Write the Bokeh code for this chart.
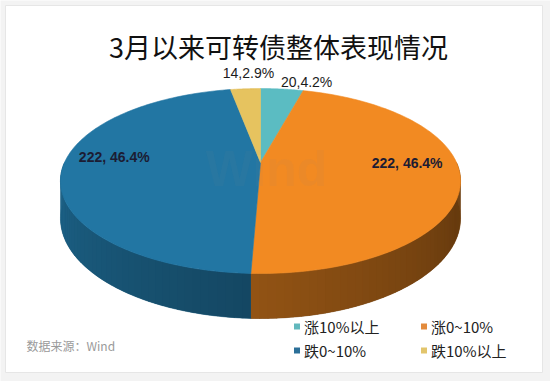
import numpy as np
from bokeh.plotting import figure
from bokeh.models import Range1d
from bokeh.core.properties import value
from bokeh.embed import file_html
from bokeh.resources import INLINE

# ---------------- data ----------------
title = "3月以来可转债整体表现情况"
categories = ["涨10%以上", "涨0~10%", "跌0~10%", "跌10%以上"]
counts = [20, 222, 222, 14]
percents = ["4.2", "46.4", "46.4", "2.9"]
source_note = "数据来源：Wind"

# ---------------- style ----------------
top_colors = ["#5bbcc2", "#f28a22", "#2276a3", "#e6c35f"]
side_colors = ["#5bbcc2", "#f28a22", "#2276a3", "#e6c35f"]
legend_colors = ["#62b8bd", "#e38b3c", "#2b6f98", "#e2c56c"]
label_inside = [False, True, True, False]
label_sep = [",", ", ", ", ", ","]

W, H = 550, 381
CX, CY, RX, RY, K, DEPTH = 260.0, 162.0, 196.0, 88.8, 0.2, 36.0
LABEL_R = 0.74
INSIDE_DY = -10.0
outside_dx = [-1.0, 0, 0, 3.0]
outside_dy = [-7.0, 0, 0, -16.0]
outside_align = ["left", "center", "center", "center"]


def proj(theta, r=1.0, drop=0.0):
    u = r * np.cos(theta)
    v = r * np.sin(theta)
    w = 1.0 + K * v
    return CX + RX * u / w, CY - RY * v / w + drop / w


def shade_factor(theta):
    return np.interp(theta, [-np.pi, -np.pi / 2, -0.35, 0.0], [0.86, 0.60, 0.42, 0.47])


def darken(hexcol, f):
    h = hexcol.lstrip("#")
    r, g, b = (int(h[i:i + 2], 16) for i in (0, 2, 4))
    return "#%02x%02x%02x" % (int(r * f), int(g * f), int(b * f))


p = figure(width=W, height=H, output_backend="svg", toolbar_location=None,
           x_range=Range1d(0, W), y_range=Range1d(H, 0), min_border=0)
p.axis.visible = False
p.grid.visible = False
p.outline_line_color = None
p.background_fill_color = "#f3f3f3"
p.border_fill_color = "#f3f3f3"

# card
p.quad(left=[5], right=[542], top=[5], bottom=[372], fill_color="white",
       line_color="#e6e6e6", line_width=1)

# angles (clockwise from 12 o'clock)
total = float(sum(counts))
fracs = np.array(counts) / total
ends = np.pi / 2 - 2 * np.pi * np.cumsum(fracs)
starts = np.concatenate([[np.pi / 2], ends[:-1]])

# sides (front half only): solid base + shaded strips on top
bx_, by_, bc_ = [], [], []
sx, sy, sc = [], [], []
for i in range(len(counts)):
    a = max(ends[i], -np.pi)
    b = min(starts[i], 0.0)
    if b <= a:
        continue
    ts_full = np.linspace(a, b, 100)
    tx0, ty0 = proj(ts_full)
    bx0, by0 = proj(ts_full[::-1], drop=DEPTH)
    bx_.append(list(tx0) + list(bx0))
    by_.append(list(ty0) + list(by0))
    bc_.append(darken(side_colors[i], float(shade_factor(0.5 * (a + b)))))
    n = max(2, int((b - a) / np.radians(2.0)) + 1)
    ts = np.linspace(a, b, n + 1)
    for j in range(n):
        t0, t1 = ts[j], ts[j + 1]
        t1e = min(b, t1 + 0.004)
        x0, y0 = proj(t0)
        x1, y1 = proj(t1e)
        qx0, qy0 = proj(t0, drop=DEPTH)
        qx1, qy1 = proj(t1e, drop=DEPTH)
        sx.append([x0, x1, qx1, qx0])
        sy.append([y0, y1, qy1, qy0])
        sc.append(darken(side_colors[i], shade_factor(0.5 * (t0 + t1))))
p.patches(bx_, by_, fill_color=bc_, line_color=bc_, line_width=0.5)
p.patches(sx, sy, fill_color=sc, line_color=None)

# top face wedges
tx, ty = [], []
for i in range(len(counts)):
    ts = np.linspace(starts[i], ends[i], 120)
    xs, ys = proj(ts)
    tx.append([CX] + list(xs))
    ty.append([CY] + list(ys))
p.patches(tx, ty, fill_color=top_colors, line_color=top_colors, line_width=0.6)

# watermark
p.text(x=[266], y=[168], text=["Wind"], text_align="center", text_baseline="middle",
       text_font=value("Liberation Sans"), text_font_style="bold", text_font_size="50px",
       text_color="#808080", text_alpha=0.06)

# data labels
mids = 0.5 * (starts + ends)
for i in range(len(counts)):
    txt = f"{counts[i]}{label_sep[i]}{percents[i]}%"
    if label_inside[i]:
        lx, ly = proj(mids[i], r=LABEL_R)
        ly = ly + INSIDE_DY
        p.text(x=[lx], y=[ly], text=[txt], text_align="center", text_baseline="middle",
               text_font=value("Liberation Sans"), text_font_style="bold",
               text_font_size="14px", text_color="#1c1c33")
    else:
        lx, ly = proj(mids[i])
        p.text(x=[lx + outside_dx[i]], y=[ly + outside_dy[i]], text=[txt],
               text_align=outside_align[i], text_baseline="middle",
               text_font=value("Liberation Sans"), text_font_size="14px",
               text_color="#1c1c1c")

# title
p.text(x=[278], y=[46], text=[title], text_align="center", text_baseline="middle",
       text_font=value("Noto Sans CJK SC"), text_font_size="27px", text_color="#111111")

# source
p.text(x=[26], y=[345], text=[source_note], text_align="left", text_baseline="middle",
       text_font=value("Noto Sans CJK SC"), text_font_size="12px", text_color="#9a9a9a")

# legend (2 x 2)
leg_x = [296.5, 423.5, 296.5, 423.5]
leg_y = [326, 326, 350, 350]
p.rect(x=leg_x, y=leg_y, width=6, height=6, fill_color=legend_colors, line_color=None)
p.text(x=[lx + 7 for lx in leg_x], y=leg_y, text=categories, text_align="left",
       text_baseline="middle", text_font=value("Noto Sans CJK SC"),
       text_font_size="15px", text_color="#222222")

open("out.html", "w").write(file_html(p, INLINE))
